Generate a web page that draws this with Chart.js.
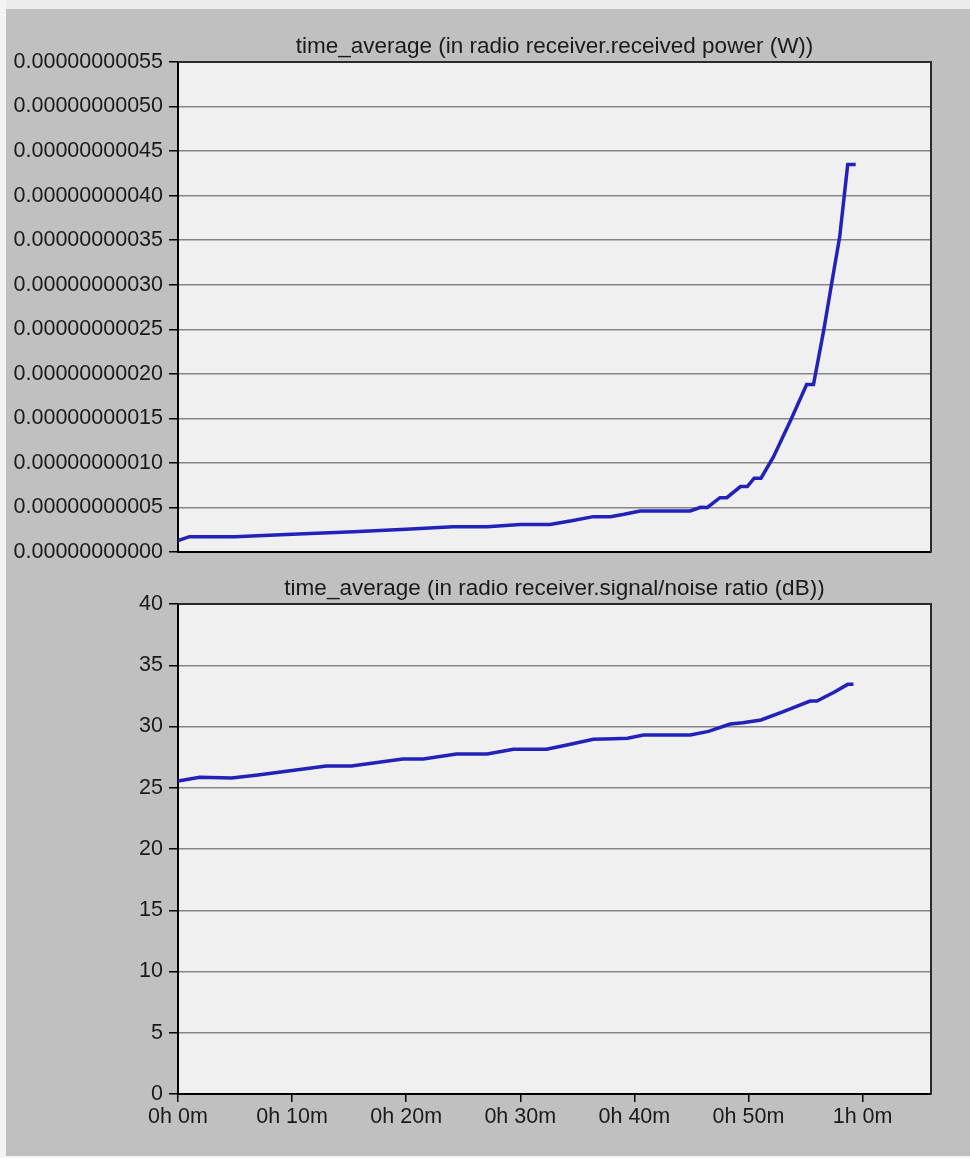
<!DOCTYPE html>
<html>
<head>
<meta charset="utf-8">
<script src="https://cdn.jsdelivr.net/npm/chart.js@4.4.1/dist/chart.umd.min.js"></script>
<style>
  html, body { margin:0; padding:0; }
  body { width:970px; height:1158px; background:#c0c0c0; position:relative; overflow:hidden; }
  #strip-top { position:absolute; left:0; top:0; width:970px; height:9px; background:#ebebeb; }
  #strip-left { position:absolute; left:0; top:0; width:6px; height:1158px; background:#f4f4f4; }
  #strip-bottom { position:absolute; left:0; top:1156px; width:970px; height:2px; background:#f4f4f4; }
  canvas { position:absolute; left:0; }
  #c1 { top:0; }
  #c2 { top:580px; }
</style>
</head>
<body>
<div id="strip-top"></div>
<div id="strip-left"></div>
<div id="strip-bottom"></div>
<canvas id="c1" width="970" height="580"></canvas>
<canvas id="c2" width="970" height="578"></canvas>
<script>
// ---- data (time in minutes) ----
const powerTitle = "time_average (in radio receiver.received power (W))";
const snrTitle = "time_average (in radio receiver.signal/noise ratio (dB))";

const powerMinutes = [0, 1, 5, 10, 15.4, 20, 24.1, 27.1, 30, 32.6, 34.5, 36.4, 37.9, 39.1, 40.5, 44.9, 45.8, 46.4, 47.5, 48.1, 49.3, 49.9, 50.5, 51.1, 52.2, 53.7, 55.1, 55.7, 56.6, 57.3, 58.0, 58.7, 59.4];
const powerWatts = [1.27e-11, 1.72e-11, 1.72e-11, 2.0e-11, 2.28e-11, 2.55e-11, 2.84e-11, 2.84e-11, 3.1e-11, 3.1e-11, 3.5e-11, 3.97e-11, 3.97e-11, 4.23e-11, 4.6e-11, 4.6e-11, 5.02e-11, 5.0e-11, 6.1e-11, 6.1e-11, 7.34e-11, 7.34e-11, 8.28e-11, 8.28e-11, 1.07e-10, 1.48e-10, 1.88e-10, 1.88e-10, 2.49e-10, 3.02e-10, 3.54e-10, 4.35e-10, 4.35e-10];

const snrMinutes = [0, 1.9, 4.7, 7.0, 10, 13, 15.2, 19.7, 21.5, 24.4, 27.1, 29.4, 32.3, 34.4, 36.4, 38.2, 39.4, 40.8, 44.9, 46.5, 48.4, 49.5, 51.1, 53, 55.4, 56, 57.5, 58.7, 59.2];
const snrDb = [25.55, 25.85, 25.8, 26.04, 26.4, 26.78, 26.78, 27.35, 27.35, 27.76, 27.76, 28.14, 28.14, 28.55, 28.95, 29.0, 29.04, 29.3, 29.3, 29.6, 30.2, 30.3, 30.53, 31.2, 32.08, 32.08, 32.8, 33.44, 33.44];

const xTickMinutes = [0, 10, 20, 30, 40, 50, 60];
const xMax = 66;
const powerTicks = [0, 5.5e-10, 5e-11];
const snrTicks = [0, 40, 5];

// ---- styling ----
const FAMILY = "'Liberation Sans', Arial, sans-serif";
const FONT = { family: FAMILY, size: 21.5 };
const TITLE_SIZE = 22.5;
const TXT = '#1a1a1a';
const LINE = '#2222b8';

const framePlugin = {
  id: 'frame',
  beforeDraw(chart) {
    const { ctx, chartArea: a } = chart;
    ctx.save();
    ctx.fillStyle = '#f0f0f0';
    ctx.fillRect(a.left, a.top, a.right - a.left, a.bottom - a.top);
    ctx.restore();
  },
  afterDraw(chart, args, opts) {
    const { ctx, chartArea: a } = chart;
    ctx.save();
    ctx.strokeStyle = '#2a2a2a';
    ctx.lineWidth = 2;
    ctx.beginPath();
    ctx.moveTo(a.left, a.top);
    ctx.lineTo(a.right, a.top);
    ctx.lineTo(a.right, a.bottom);
    ctx.stroke();
    ctx.fillStyle = TXT;
    ctx.font = TITLE_SIZE + "px " + FAMILY;
    ctx.textAlign = 'center';
    ctx.textBaseline = 'alphabetic';
    ctx.fillText(opts.text, (a.left + a.right) / 2, a.top - 9);
    ctx.restore();
  }
};

function fmtTime(v) {
  return Math.floor(v / 60) + 'h ' + Math.round(v % 60) + 'm';
}

function makeChart(id, title, xs, ys, yT, yFmt, padTop, xHeight, showX) {
  const data = xs.map((x, i) => ({ x: x, y: ys[i] }));
  return new Chart(document.getElementById(id), {
    type: 'line',
    data: { datasets: [{ data: data, borderColor: LINE, borderWidth: 3.5, pointRadius: 0, tension: 0, fill: false }] },
    options: {
      responsive: false,
      animation: false,
      layout: { padding: { top: padTop, left: 0, right: 39, bottom: 0 } },
      plugins: { legend: { display: false }, tooltip: { enabled: false }, title: { display: false }, frame: { text: title } },
      scales: {
        x: {
          type: 'linear', min: 0, max: xMax,
          afterFit(s) { s.height = xHeight; },
          afterBuildTicks(s) { s.ticks = xTickMinutes.map(v => ({ value: v })); },
          border: { display: true, color: '#000', width: 2 },
          grid: { drawOnChartArea: false, display: showX, drawTicks: showX, tickLength: 8, tickColor: '#000', lineWidth: 1.5 },
          ticks: { display: showX, callback: fmtTime, font: FONT, color: TXT, padding: 2, maxRotation: 0, autoSkip: false }
        },
        y: {
          min: yT[0], max: yT[1],
          afterFit(s) { s.width = 178; },
          border: { display: true, color: '#000', width: 2 },
          grid: { color: '#858585', lineWidth: 1.5, tickLength: 9, tickColor: '#000', drawTicks: true },
          ticks: { stepSize: yT[2], callback: yFmt, font: FONT, color: TXT, padding: 6, autoSkip: false }
        }
      }
    },
    plugins: [framePlugin]
  });
}

makeChart('c1', powerTitle, powerMinutes, powerWatts, powerTicks, v => Number(v).toFixed(11), 62, 28, false);
makeChart('c2', snrTitle, snrMinutes, snrDb, snrTicks, v => String(Math.round(v)), 24, 64, true);
</script>
</body>
</html>
